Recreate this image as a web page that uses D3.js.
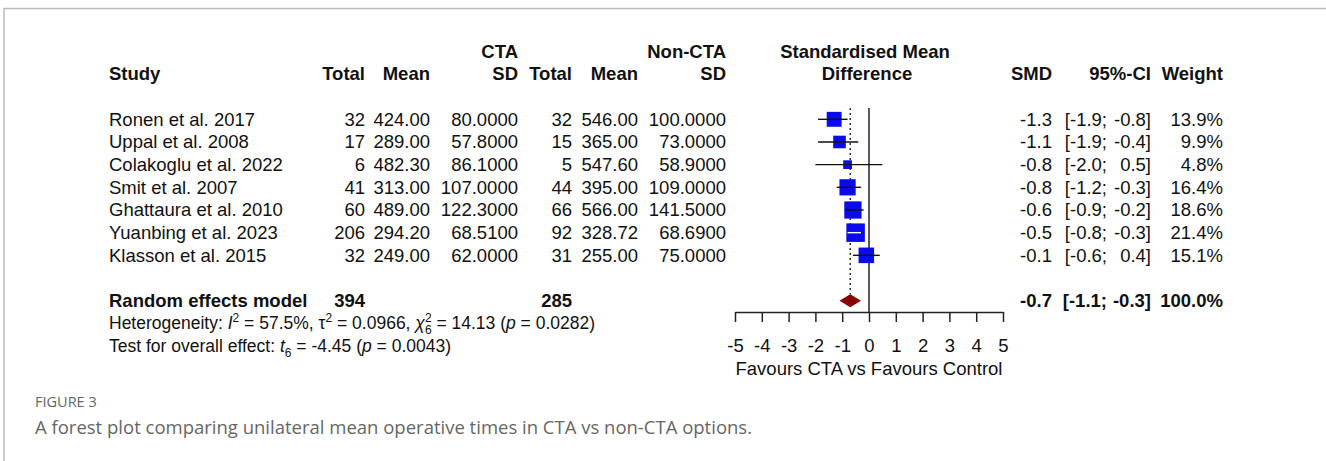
<!DOCTYPE html>
<html>
<head>
<meta charset="utf-8">
<script src="https://cdn.jsdelivr.net/npm/d3@7"></script>
<style>
  html, body { margin: 0; padding: 0; background: #fff; }
  svg { display: block; }
  .t { font-family: "Liberation Sans", Arial, Helvetica, sans-serif; font-size: 18.5px; fill: #111; }
  .b { font-weight: bold; }
  .cap { font-family: "Open Sans", "Noto Sans", sans-serif; fill: #666; }
</style>
</head>
<body>
<svg id="chart" width="1326" height="461"></svg>
<script>
// Study-level data
const studies = ["Ronen et al. 2017", "Uppal et al. 2008", "Colakoglu et al. 2022", "Smit et al. 2007",
                 "Ghattaura et al. 2010", "Yuanbing et al. 2023", "Klasson et al. 2015"];
const ctaTotal = [32, 17, 6, 41, 60, 206, 32];
const ctaMean  = ["424.00", "289.00", "482.30", "313.00", "489.00", "294.20", "249.00"];
const ctaSD    = ["80.0000", "57.8000", "86.1000", "107.0000", "122.3000", "68.5100", "62.0000"];
const ctlTotal = [32, 15, 5, 44, 66, 92, 31];
const ctlMean  = ["546.00", "365.00", "547.60", "395.00", "566.00", "328.72", "255.00"];
const ctlSD    = ["100.0000", "73.0000", "58.9000", "109.0000", "141.5000", "68.6900", "75.0000"];
const smd      = [-1.3, -1.1, -0.8, -0.8, -0.6, -0.5, -0.1];
const ciLow    = [-1.9, -1.9, -2.0, -1.2, -0.9, -0.8, -0.6];
const ciHigh   = [-0.8, -0.4, 0.5, -0.3, -0.2, -0.3, 0.4];
const weights  = [13.9, 9.9, 4.8, 16.4, 18.6, 21.4, 15.1];

// Pooled random effects estimate
const pooledTotals = [394, 285];
const pooledSMD = -0.7, pooledLow = -1.1, pooledHigh = -0.3, pooledWeight = 100.0;

const axisTicks = [-5, -4, -3, -2, -1, 0, 1, 2, 3, 4, 5];

const svg = d3.select("#chart");

// page frame
svg.append("line").attr("x1", 4).attr("x2", 1326).attr("y1", 8.5).attr("y2", 8.5)
  .attr("stroke", "#bbb").attr("stroke-width", 1.5);
svg.append("line").attr("x1", 4).attr("x2", 4).attr("y1", 8).attr("y2", 461)
  .attr("stroke", "#bbb").attr("stroke-width", 1.5);

// row layout
const rowH = 22.67, row0 = 51.3;
const rowY = i => row0 + i * rowH;
const studyRow = i => rowY(3 + i);

const x = d3.scaleLinear().domain([-5, 5]).range([735, 1003]);

function txt(xp, yp, s, anchor, bold) {
  return svg.append("text").attr("class", "t" + (bold ? " b" : ""))
    .attr("x", xp).attr("y", yp).attr("dy", "0.35em")
    .attr("text-anchor", anchor || "start").text(s);
}

// column right edges
const col = { study: 109, cT: 365, cM: 430, cS: 518, nT: 572, nM: 638, nS: 726,
              smd: 1052, ciL: 1107, ciH: 1151, w: 1223 };

// headers
txt(col.cS, rowY(0), "CTA", "end", true);
txt(col.nS, rowY(0), "Non-CTA", "end", true);
txt(x(0) - 4, rowY(0), "Standardised Mean", "middle", true);
txt(col.study, rowY(1), "Study", "start", true);
txt(col.cT, rowY(1), "Total", "end", true);
txt(col.cM, rowY(1), "Mean", "end", true);
txt(col.cS, rowY(1), "SD", "end", true);
txt(col.nT, rowY(1), "Total", "end", true);
txt(col.nM, rowY(1), "Mean", "end", true);
txt(col.nS, rowY(1), "SD", "end", true);
txt(x(0) - 2, rowY(1), "Difference", "middle", true);
txt(col.smd, rowY(1), "SMD", "end", true);
txt(col.ciH, rowY(1), "95%-CI", "end", true);
txt(col.w, rowY(1), "Weight", "end", true);

// study rows
studies.forEach((s, i) => {
  const y = studyRow(i);
  txt(col.study, y, s);
  txt(col.cT, y, ctaTotal[i], "end");
  txt(col.cM, y, ctaMean[i], "end");
  txt(col.cS, y, ctaSD[i], "end");
  txt(col.nT, y, ctlTotal[i], "end");
  txt(col.nM, y, ctlMean[i], "end");
  txt(col.nS, y, ctlSD[i], "end");
  txt(col.smd, y, smd[i].toFixed(1), "end");
  txt(col.ciL, y, "[" + ciLow[i].toFixed(1) + ";", "end");
  txt(col.ciH, y, ciHigh[i].toFixed(1) + "]", "end");
  txt(col.w, y, weights[i].toFixed(1) + "%", "end");
});

// pooled row
const reY = rowY(11);
txt(col.study, reY, "Random effects model", "start", true);
txt(col.cT, reY, pooledTotals[0], "end", true);
txt(col.nT, reY, pooledTotals[1], "end", true);
txt(col.smd, reY, pooledSMD.toFixed(1), "end", true);
txt(col.ciL, reY, "[" + pooledLow.toFixed(1) + ";", "end", true);
txt(col.ciH, reY, pooledHigh.toFixed(1) + "]", "end", true);
txt(col.w, reY, pooledWeight.toFixed(1) + "%", "end", true);

// heterogeneity statistics
const het = svg.append("text").attr("class", "t").style("font-size", "17.5px")
  .attr("x", col.study).attr("y", rowY(12)).attr("dy", "0.35em");
het.append("tspan").text("Heterogeneity: ");
het.append("tspan").attr("font-style", "italic").text("I");
het.append("tspan").attr("font-size", 12).attr("dy", -7).text("2");
het.append("tspan").attr("dy", 7).text(" = 57.5%, τ");
het.append("tspan").attr("font-size", 12).attr("dy", -7).text("2");
het.append("tspan").attr("dy", 7).text(" = 0.0966, ");
het.append("tspan").attr("font-style", "italic").text("χ");
het.append("tspan").attr("font-size", 12).attr("dy", -7).text("2");
het.append("tspan").attr("font-size", 12).attr("dx", -6.7).attr("dy", 12).text("6");
het.append("tspan").attr("dy", -5).text(" = 14.13 (");
het.append("tspan").attr("font-style", "italic").text("p");
het.append("tspan").text(" = 0.0282)");

const test = svg.append("text").attr("class", "t").style("font-size", "17.5px")
  .attr("x", col.study).attr("y", rowY(13)).attr("dy", "0.35em");
test.append("tspan").text("Test for overall effect: ");
test.append("tspan").attr("font-style", "italic").text("t");
test.append("tspan").attr("font-size", 12).attr("dy", 5).text("6");
test.append("tspan").attr("dy", -5).text(" = -4.45 (");
test.append("tspan").attr("font-style", "italic").text("p");
test.append("tspan").text(" = 0.0043)");

// forest panel
const axisY = 312;
const topY = studyRow(0) - rowH / 2;
const g = svg.append("g");

// line of no effect
g.append("line").attr("x1", x(0)).attr("x2", x(0)).attr("y1", topY).attr("y2", axisY)
  .attr("stroke", "#222").attr("stroke-width", 1.5);

// pooled estimate reference (dotted)
const diaH = 13;
g.append("line").attr("x1", x(pooledSMD)).attr("x2", x(pooledSMD))
  .attr("y1", topY).attr("y2", reY - diaH / 2)
  .attr("stroke", "#222").attr("stroke-width", 1.4).attr("stroke-dasharray", "2,3");

// study squares, area proportional to weight
const side = d3.scaleSqrt().domain([0, 100]).range([0, 40]);
studies.forEach((s, i) => {
  const y = studyRow(i);
  const w = side(weights[i]);
  const inside = x(ciLow[i]) >= x(smd[i]) - w / 2 && x(ciHigh[i]) <= x(smd[i]) + w / 2;
  g.append("rect").attr("x", x(smd[i]) - w / 2).attr("y", y - w / 2)
    .attr("width", w).attr("height", w).attr("fill", "#0a0aef");
  g.append("line").attr("x1", x(ciLow[i])).attr("x2", x(ciHigh[i])).attr("y1", y).attr("y2", y)
    .attr("stroke", inside ? "#fff" : "#111").attr("stroke-width", 1.4);
});

// pooled diamond
g.append("path")
  .attr("d", `M${x(pooledLow)},${reY} L${x(pooledSMD)},${reY - diaH / 2} L${x(pooledHigh)},${reY} L${x(pooledSMD)},${reY + diaH / 2} Z`)
  .attr("fill", "#8b0000");

// axis
const ax = g.append("g").attr("transform", `translate(0,${axisY})`)
  .call(d3.axisBottom(x).tickValues(axisTicks).tickFormat(d3.format("d")).tickSize(10).tickSizeOuter(0).tickPadding(17));
ax.select(".domain").attr("stroke", "#222").attr("stroke-width", 1.5);
ax.selectAll(".tick line").attr("stroke", "#222").attr("stroke-width", 1.5);
ax.selectAll(".tick text").attr("class", "t").attr("fill", "#111")
  .style("font-family", "'Liberation Sans', Arial, sans-serif").style("font-size", "18.5px")
  .text(d => d < 0 ? "-" + Math.abs(d) : d);

txt(x(0), 369, "Favours CTA vs Favours Control", "middle");

// caption
svg.append("text").attr("class", "cap").attr("x", 35).attr("y", 407)
  .style("font-size", "14.5px").text("FIGURE 3");
svg.append("text").attr("class", "cap").attr("x", 35).attr("y", 434)
  .style("font-size", "18.5px").text("A forest plot comparing unilateral mean operative times in CTA vs non-CTA options.");
</script>
</body>
</html>
